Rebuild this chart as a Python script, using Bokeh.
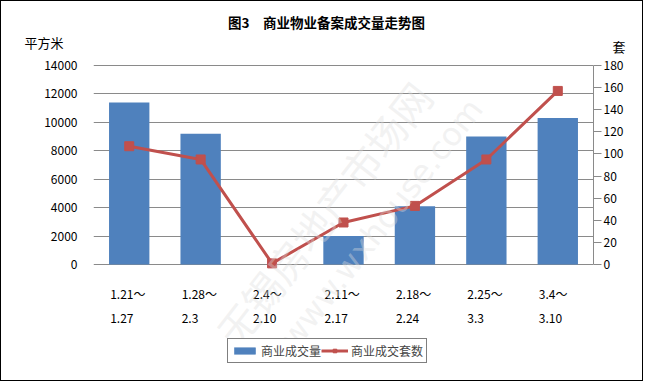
from bokeh.plotting import figure
from bokeh.models import (FactorRange, Range1d, LinearAxis, Label, Legend, LegendItem,
                          FixedTicker, ColumnDataSource)
from bokeh.core.properties import value
from bokeh.embed import file_html
from bokeh.resources import INLINE
import math

# ---- data ----
week_start = ["1.21～", "1.28～", "2.4～", "2.11～", "2.18～", "2.25～", "3.4～"]
week_end = ["1.27", "2.3", "2.10", "2.17", "2.24", "3.3", "3.10"]
area = [11400, 9200, 0, 2000, 4100, 9000, 10300]      # 商业成交量 (平方米)
units = [107, 95, 1, 38, 53, 95, 157]                  # 商业成交套数 (套)
left_ticks = [0, 2000, 4000, 6000, 8000, 10000, 12000, 14000]
right_ticks = [0, 20, 40, 60, 80, 100, 120, 140, 160, 180]
title_text = "图3　商业物业备案成交量走势图"
left_unit = "平方米"
right_unit = "套"
series_names = ["商业成交量", "商业成交套数"]
watermark1 = "无锡房地产市场网"
watermark2 = "www.wxhouse.com"

cats = [s + e for s, e in zip(week_start, week_end)]
src = ColumnDataSource(dict(cat=cats, area=area, units=units, start=week_start,
                            end=week_end, base=[0] * len(cats)))

FONT = "Noto Sans CJK SC"
BLUE = "#4F81BD"
RED = "#C0504D"
GRID = "#8a8a8a"

# ---- layout geometry (canvas px) ----
W, H = 643, 381
FL, FR = 92, 592            # plot-area left / right
PT, PB = 64, 263            # pixel rows of the axes' top value and of zero
LMAX, RMAX = left_ticks[-1], right_ticks[-1]
k_l = LMAX / (PB - PT)      # data units per px, left axis
k_r = RMAX / (PB - PT)      # data units per px, right axis

p = figure(width=W, height=H, x_range=FactorRange(*cats),
           y_range=Range1d(-(H - PB) * k_l, LMAX + PT * k_l),
           output_backend="svg", toolbar_location=None, title=None, x_axis_location=None,
           min_border_left=FL, min_border_right=W - FR, min_border_top=0, min_border_bottom=0)
p.extra_y_ranges = {"n": Range1d(-(H - PB) * k_r, RMAX + PT * k_r)}
p.outline_line_color = None
p.background_fill_color = "white"
p.border_fill_color = "white"
p.styles = {"border": "1px solid #000000"}


def style_labels(ax):
    ax.major_label_text_font = FONT
    ax.major_label_text_font_size = "12px"
    ax.major_label_text_color = "#000000"


ly = p.yaxis[0]
ly.ticker = FixedTicker(ticks=left_ticks)
ly.axis_line_color = None
ly.major_tick_line_color = None
ly.minor_tick_line_color = None
ly.major_label_standoff = 10
style_labels(ly)

# unit caption on the left, as the label of an extra tick at the caption row
y_cap_l = int(round(LMAX + (PT - 41) * k_l))
lu = LinearAxis(ticker=FixedTicker(ticks=[y_cap_l]), major_label_overrides={y_cap_l: left_unit})
lu.axis_line_color = None
lu.major_tick_line_color = None
lu.minor_tick_line_color = None
lu.major_label_standoff = -28
style_labels(lu)
lu.major_label_text_font_size = "13px"
p.add_layout(lu, "left")

ry = LinearAxis(y_range_name="n", ticker=FixedTicker(ticks=right_ticks), bounds=(0, RMAX))
ry.axis_line_color = GRID
ry.major_tick_line_color = GRID
ry.major_tick_out = 8
ry.major_tick_in = 0
ry.minor_tick_line_color = None
ry.major_label_standoff = 2
style_labels(ry)
p.add_layout(ry, "right")

y_cap_r = int(round(LMAX + (PT - 45) * k_l))
ru = LinearAxis(ticker=FixedTicker(ticks=[y_cap_r]), major_label_overrides={y_cap_r: right_unit})
ru.axis_line_color = None
ru.major_tick_line_color = None
ru.minor_tick_line_color = None
ru.major_label_standoff = -20
style_labels(ru)
ru.major_label_text_font_size = "13px"
p.add_layout(ru, "right")

p.xgrid.grid_line_color = None
p.ygrid.grid_line_color = GRID
p.ygrid.ticker = FixedTicker(ticks=left_ticks)


def scr(x, y):
    return x - FL, H - y


# watermark (faint)
for txt, (cx, cy), fnt, fs in ((watermark1, (322, 212), FONT, "40px"),
                               (watermark2, (380, 222), "DejaVu Sans", "32px")):
    sx, sy = scr(cx, cy)
    p.add_layout(Label(x=sx, y=sy, x_units="screen", y_units="screen", text=txt,
                       angle=math.radians(52), text_align="center", text_baseline="middle",
                       text_font=fnt, text_font_size=fs, text_color="#dddddd", text_alpha=0.4))

bars = p.vbar(x="cat", top="area", width=0.565, source=src, fill_color=BLUE, line_color=None)
ln = p.line(x="cat", y="units", source=src, y_range_name="n", line_color=RED, line_width=3)
sc = p.scatter(x="cat", y="units", source=src, y_range_name="n", marker="square", size=9,
               fill_color=RED, line_color=RED)

# category labels: two lines under each bar, left aligned
for col, dy in (("start", 292 - PB), ("end", 317 - PB)):
    p.text(x="cat", y="base", text=col, source=src, x_offset=-19, y_offset=dy,
           text_align="left", text_baseline="middle", text_font=value(FONT),
           text_font_size="12px", text_color="#000000")

# title
sx, sy = scr(325, 20)
p.add_layout(Label(x=sx, y=sy, x_units="screen", y_units="screen", text=title_text,
                   text_align="center", text_baseline="middle", text_font=FONT,
                   text_font_size="13.5px", text_font_style="bold", text_color="#000000"))

lx, lyy = scr(226, 362)
legend = Legend(items=[LegendItem(label=series_names[0], renderers=[bars]),
                       LegendItem(label=series_names[1], renderers=[ln, sc])],
                orientation="horizontal", location=(lx, lyy),
                border_line_color="#000000", border_line_width=1, background_fill_color="white",
                background_fill_alpha=1, label_text_font=FONT, label_text_font_size="12px",
                glyph_width=27, glyph_height=9, padding=3, spacing=0, margin=0,
                label_standoff=3, label_height=13)
p.add_layout(legend, "center")

open("out.html", "w").write(file_html(p, INLINE))
